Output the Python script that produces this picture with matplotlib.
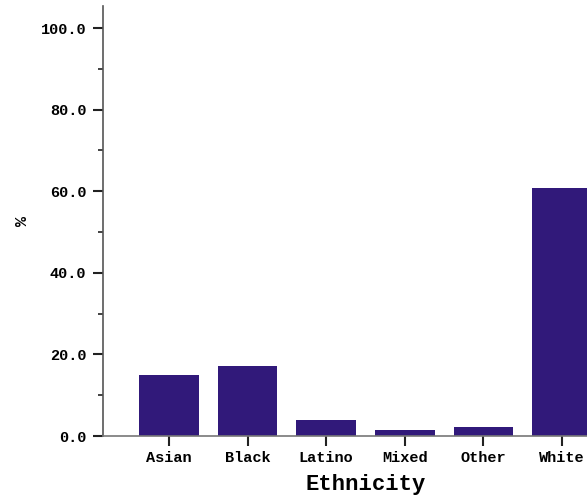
import matplotlib
matplotlib.use("Agg")
import matplotlib.pyplot as plt
from matplotlib.ticker import MultipleLocator, FormatStrFormatter

# values
ethnicities = ["Asian", "Black", "Latino", "Mixed", "Other", "White"]
percent = [14.9, 17.1, 3.9, 1.5, 2.2, 60.9]

plt.rcParams['font.family'] = ['Liberation Mono', 'DejaVu Sans Mono']
plt.rcParams['font.weight'] = 'bold'

fig = plt.figure(figsize=(5.87, 4.98), dpi=100)
ax = fig.add_axes([103/587, 62/498, 525/587, 430/498])

x = list(range(len(ethnicities)))
ax.bar(x, percent, width=0.76, color="#31197a")

ax.set_xlim(-0.84, 5.84)
ax.set_ylim(0, 105.4)
ax.set_xticks(x)
ax.set_xticklabels(ethnicities, fontsize=11, fontweight='bold')
ax.yaxis.set_major_locator(MultipleLocator(20))
ax.yaxis.set_minor_locator(MultipleLocator(10))
ax.yaxis.set_major_formatter(FormatStrFormatter('%.1f'))
for lab in ax.get_yticklabels():
    lab.set_fontsize(11)
    lab.set_fontweight('bold')

ax.tick_params(axis='y', which='major', length=7, width=1.5, color='#222222', pad=5)
ax.tick_params(axis='y', which='minor', length=3.6, width=1.2, color='#222222')
ax.tick_params(axis='x', which='major', length=7, width=1.5, color='#222222', pad=4)

for s in ['top', 'right']:
    ax.spines[s].set_visible(False)
ax.spines['left'].set_color('#555555')
ax.spines['bottom'].set_color('#777777')
ax.spines['left'].set_linewidth(1.2)
ax.spines['bottom'].set_linewidth(1.2)

ax.set_xlabel("Ethnicity", fontsize=16, fontweight='bold', labelpad=6)
ax.set_ylabel("%", fontsize=12, fontweight='bold', labelpad=8)

fig.savefig("out.png", dpi=100)
